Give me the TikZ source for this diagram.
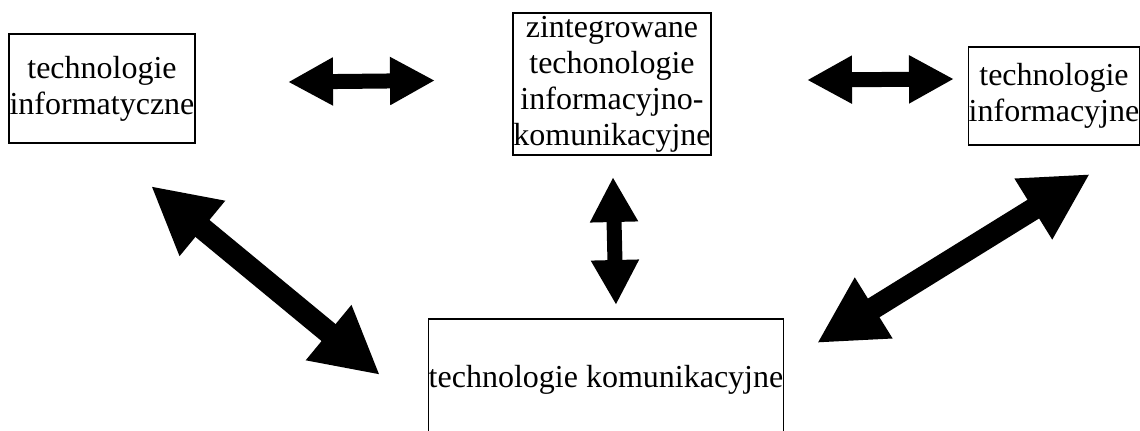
\documentclass[tikz,border=0pt]{standalone}
\usepackage{fontspec}
\setmainfont{Liberation Serif}
\usetikzlibrary{arrows.meta}
\tikzset{
  box/.style={draw, line width=1pt, inner sep=0pt, align=center, font=\fontsize{24}{27}\selectfont},
  biarrow/.style={line width=11.25pt, {Triangle[length=33.75pt,width=33.75pt]}-{Triangle[length=33.75pt,width=33.75pt]}},
  bigarrow/.style={line width=16.5pt, {Triangle[length=50pt,width=50pt]}-{Triangle[length=50pt,width=50pt]}}
}
\begin{document}
\begin{tikzpicture}[x=0.75pt, y=-0.75pt]
      \clip (0, 0) rectangle (1140, 430);
      % nodes
      \node[box, minimum width=139.5pt, minimum height=81.75pt] (it) at (102, 88.5) {technologie\\informatyczne};
      \node[box, minimum width=148.5pt, minimum height=106.5pt] (zitk) at (612, 84) {zintegrowane\\techonologie\\informacyjno-\\komunikacyjne};
      \node[box, minimum width=128.25pt, minimum height=73.5pt] (ik) at (1054, 96) {technologie\\informacyjne};
      \node[box, minimum width=265.5pt, minimum height=91.5pt] (kom) at (606, 380) {technologie komunikacyjne};
      % arrow ends
      \coordinate (it-zitk) at (288, 82);
      \coordinate (zitk-it) at (435, 80.5);
      \coordinate (zitk-ik) at (807, 80);
      \coordinate (ik-zitk) at (954, 79);
      \coordinate (zitk-kom) at (613, 177);
      \coordinate (kom-zitk) at (616, 305);
      \coordinate (it-kom) at (151, 186);
      \coordinate (kom-it) at (380, 375);
      \coordinate (kom-ik) at (817, 343);
      \coordinate (ik-kom) at (1090, 174);
      % lines
      \draw[biarrow] (it-zitk) -- (zitk-it);
      \draw[biarrow] (zitk-ik) -- (ik-zitk);
      \draw[biarrow] (zitk-kom) -- (kom-zitk);
      \draw[bigarrow] (it-kom) -- (kom-it);
      \draw[bigarrow] (kom-ik) -- (ik-kom);
    \end{tikzpicture}
\end{document}
